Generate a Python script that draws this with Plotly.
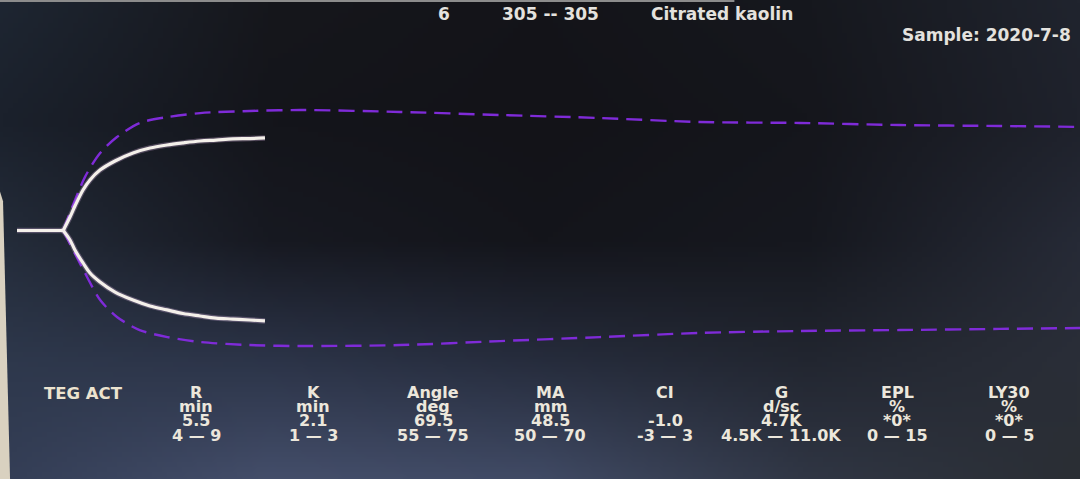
import base64, struct, zlib
import numpy as np
import plotly.graph_objects as go

# ---------------- data ----------------
# TEG tracing (time in minutes, half-amplitude in mm)
baseline_time = [0.0, 5.5]
baseline_amp = [0.0, 0.0]
trace_time = [5.5, 6.31, 6.90, 7.86, 8.69, 9.88, 11.67, 13.81, 15.83, 17.86,
              19.76, 21.79, 23.69, 25.71, 27.74, 29.52]
trace_upper = [0.0, 7.1, 12.9, 21.3, 26.6, 31.8, 36.6, 40.8, 43.4, 45.0,
               46.1, 47.1, 47.6, 48.2, 48.4, 48.7]
trace_lower = [0.0, 5.0, 10.3, 17.1, 22.4, 27.1, 32.4, 36.6, 39.7, 41.8,
               43.7, 45.0, 46.1, 46.6, 47.1, 47.6]

# reference envelope (dashed)
env_time = [5.5, 8.1, 9.9, 11.9, 14.6, 17.9, 21.8, 27.7, 33.7, 45.6, 57.5,
            69.4, 81.3, 93.2, 105.1, 117.0, 127.0]
env_upper = [0.0, 28.2, 40.8, 49.2, 56.6, 59.7, 61.8, 62.9, 63.4, 62.4, 60.8,
             59.2, 57.1, 56.6, 55.5, 55.0, 54.5]
env_lower = [0.0, 22.4, 36.6, 45.5, 52.4, 56.1, 58.7, 60.3, 60.8, 60.3, 58.2,
             56.1, 53.9, 52.9, 52.4, 51.8, 51.3]

# header texts
channel = "6"
sample_range = "305 -- 305"
assay = "Citrated kaolin"
sample_label = "Sample: 2020-7-8"
test_name = "TEG ACT"

# result table
params = ["R", "K", "Angle", "MA", "CI", "G", "EPL", "LY30"]
units = ["min", "min", "deg", "mm", "", "d/sc", "%", "%"]
values = ["5.5", "2.1", "69.5", "48.5", "-1.0", "4.7K", "*0*", "*0*"]
ranges = ["4 — 9", "1 — 3", "55 — 75", "50 — 70", "-3 — 3", "4.5K — 11.0K", "0 — 15", "0 — 5"]

# ---------------- layout constants ----------------
W, H = 1080, 479
col_x = [196, 313, 433, 550, 665, 781, 897, 1009]
row_y = [392, 406, 420, 435]


# ---------------- background gradient image ----------------
def make_png(arr):
    h, w, _ = arr.shape
    raw = b"".join(b"\x00" + arr[i].tobytes() for i in range(h))

    def chunk(tag, data):
        c = struct.pack(">I", len(data)) + tag + data
        return c + struct.pack(">I", zlib.crc32(tag + data) & 0xffffffff)

    png = b"\x89PNG\r\n\x1a\n"
    png += chunk(b"IHDR", struct.pack(">IIBBBBB", w, h, 8, 2, 0, 0, 0))
    png += chunk(b"IDAT", zlib.compress(raw, 9))
    png += chunk(b"IEND", b"")
    return "data:image/png;base64," + base64.b64encode(png).decode()


grid = np.array([
    [(30, 38, 50), (22, 23, 28), (20, 20, 25), (22, 24, 30), (32, 36, 46)],
    [(27, 33, 44), (20, 21, 27), (19, 19, 24), (21, 22, 28), (31, 34, 44)],
    [(36, 44, 58), (23, 25, 33), (20, 21, 27), (22, 24, 31), (38, 42, 54)],
    [(46, 56, 76), (44, 52, 72), (38, 44, 60), (34, 38, 48), (42, 46, 56)],
    [(52, 62, 86), (68, 78, 106), (64, 74, 100), (48, 54, 68), (42, 46, 52)],
], dtype=float)
iw, ih = 216, 96
gx = np.linspace(0, 4, iw)
gy = np.linspace(0, 4, ih)
X, Y = np.meshgrid(gx, gy)
x0 = np.clip(np.floor(X).astype(int), 0, 3)
y0 = np.clip(np.floor(Y).astype(int), 0, 3)
fx = (X - x0)[..., None]
fy = (Y - y0)[..., None]
img = (grid[y0, x0] * (1 - fx) * (1 - fy) + grid[y0, x0 + 1] * fx * (1 - fy)
       + grid[y0 + 1, x0] * (1 - fx) * fy + grid[y0 + 1, x0 + 1] * fx * fy)
bg_uri = make_png(np.clip(img, 0, 255).astype(np.uint8))

# ---------------- figure ----------------
fig = go.Figure()

env_style = dict(color="#7f2bd8", width=2.4, dash="16px,8px")
fig.add_trace(go.Scatter(x=env_time, y=env_upper, mode="lines",
                         line=dict(shape="spline", smoothing=0.8, **env_style),
                         hoverinfo="skip", showlegend=False))
fig.add_trace(go.Scatter(x=env_time, y=[-v for v in env_lower], mode="lines",
                         line=dict(shape="spline", smoothing=0.8, **env_style),
                         hoverinfo="skip", showlegend=False))

# soft glow under the tracing, then the tracing itself
for w, c in [(5.5, "rgba(225,185,235,0.28)"), (3.2, "#f4f0ea")]:
    fig.add_trace(go.Scatter(x=baseline_time, y=baseline_amp, mode="lines",
                             line=dict(color=c, width=w), hoverinfo="skip",
                             showlegend=False))
    fig.add_trace(go.Scatter(x=trace_time, y=trace_upper, mode="lines",
                             line=dict(color=c, width=w, shape="spline", smoothing=1.0),
                             hoverinfo="skip", showlegend=False))
    fig.add_trace(go.Scatter(x=trace_time, y=[-v for v in trace_lower], mode="lines",
                             line=dict(color=c, width=w, shape="spline", smoothing=1.0),
                             hoverinfo="skip", showlegend=False))

px_per_min = 8.4
px_per_mm = 1.9
x_origin, y_center = 17, 230.5
fig.update_xaxes(range=[-x_origin / px_per_min, (W - x_origin) / px_per_min],
                 visible=False, fixedrange=True)
fig.update_yaxes(range=[-(H - y_center) / px_per_mm, y_center / px_per_mm],
                 visible=False, fixedrange=True)


def px(x, y):
    return x / W, 1 - y / H


annotations = []
top_font = dict(family="DejaVu Sans", size=17, color="#e4e2de", weight="bold")
for txt, x, anchor in [(channel, 444, "center"), (sample_range, 550, "center"),
                       (assay, 649, "left")]:
    ax, ay = px(x, 14)
    annotations.append(dict(text=txt, x=ax, y=ay, xref="paper", yref="paper",
                            xanchor=anchor, yanchor="middle", showarrow=False,
                            font=top_font))
ax, ay = px(1073, 35)
annotations.append(dict(text=sample_label, x=ax, y=ay, xref="paper", yref="paper",
                        xanchor="right", yanchor="middle", showarrow=False,
                        font=top_font))

tab_font = dict(family="DejaVu Sans", size=16, color="#ece7dc", weight="bold")
ax, ay = px(42, 393)
annotations.append(dict(text=test_name, x=ax, y=ay, xref="paper", yref="paper",
                        xanchor="left", yanchor="middle", showarrow=False,
                        font=dict(family="DejaVu Sans", size=16.5, color="#ece3cf",
                                  weight="bold")))
for i, cx in enumerate(col_x):
    if units[i]:
        rows = [params[i], units[i], values[i], ranges[i]]
        ys = row_y
    else:
        rows = [params[i], values[i], ranges[i]]
        ys = [row_y[0], row_y[2], row_y[3]]
    for txt, ry in zip(rows, ys):
        ax, ay = px(cx, ry)
        annotations.append(dict(text=txt, x=ax, y=ay, xref="paper", yref="paper",
                                xanchor="center", yanchor="middle", showarrow=False,
                                font=tab_font))

shapes = [
    # beige strip at left edge (monitor bezel)
    dict(type="path", xref="paper", yref="paper",
         path="M 0 0 L 0.0093 0 L 0.0028 0.58 L 0 0.60 Z",
         fillcolor="#d9d1c0", line=dict(width=0), layer="above"),
    # light top edge
    dict(type="rect", xref="paper", yref="paper", x0=0, x1=0.68, y0=1 - 2 / H, y1=1,
         fillcolor="#8c8c8c", line=dict(width=0), layer="above"),
]

fig.update_layout(
    width=W, height=H,
    margin=dict(l=0, r=0, t=0, b=0, pad=0),
    paper_bgcolor="#16171c", plot_bgcolor="rgba(0,0,0,0)",
    images=[dict(source=bg_uri, xref="paper", yref="paper", x=0, y=1,
                 sizex=1, sizey=1, xanchor="left", yanchor="top",
                 sizing="stretch", layer="below")],
    annotations=annotations,
    shapes=shapes,
    showlegend=False,
)

fig.write_html("out.html", config={"displayModeBar": False},
               post_script="document.body.style.margin='0';")
